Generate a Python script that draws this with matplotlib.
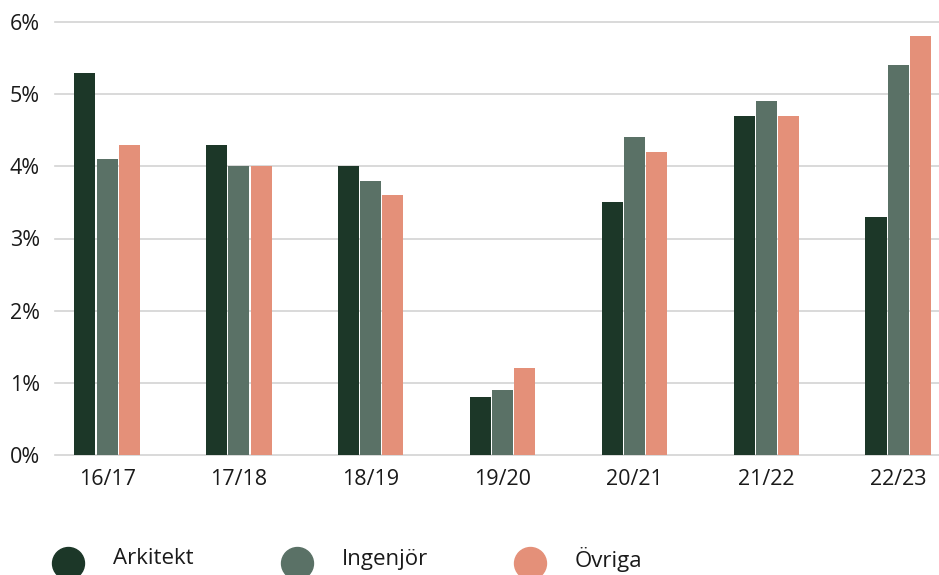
import numpy as np
import matplotlib
matplotlib.use("Agg")
import matplotlib.pyplot as plt
from matplotlib.lines import Line2D

plt.rcParams['font.family'] = ['Open Sans', 'DejaVu Sans']

# Andel per läsår och yrkesgrupp (%)
years = ['16/17', '17/18', '18/19', '19/20', '20/21', '21/22', '22/23']
arkitekt = [5.3, 4.3, 4.0, 0.8, 3.5, 4.7, 3.3]
ingenjor = [4.1, 4.0, 3.8, 0.9, 4.4, 4.9, 5.4]
ovriga = [4.3, 4.0, 3.6, 1.2, 4.2, 4.7, 5.8]

series = [('Arkitekt', arkitekt, '#1c3728'),
          ('Ingenjör', ingenjor, '#5a7166'),
          ('Övriga', ovriga, '#e49079')]

W, H = 939, 575
fig = plt.figure(figsize=(W / 100, H / 100), dpi=100)
ax = fig.add_axes([55 / W, (H - 455) / H, 1 - 55 / W, (455 - 22) / H])

x = np.arange(len(years))
width = 0.16
step = 0.168
for i, (name, vals, col) in enumerate(series):
    ax.bar(x + (i - 1) * step, vals, width=width, color=col, zorder=3)

ax.set_xlim(-0.395, 6.31)
ax.set_ylim(0, 6)
ax.set_yticks(range(7))
ax.set_yticklabels([f'{v}%' for v in range(7)])
ax.set_xticks(x)
ax.set_xticklabels(years)
ax.tick_params(axis='both', length=0, labelsize=15.5, colors='#1a1a1a')
ax.tick_params(axis='y', pad=11)
ax.tick_params(axis='x', pad=10)
ax.grid(axis='y', color='#d3d3d3', linewidth=1.2, zorder=0)
for ln in ax.get_ygridlines():
    ln.set_clip_on(False)
for s in ax.spines.values():
    s.set_visible(False)

# Legend drawn along the bottom edge
legend_x = [68, 297, 530]
for (name, vals, col), lx in zip(series, legend_x):
    fig.add_artist(Line2D([lx / W], [(H - 563) / H], marker='o', markersize=23,
                          color=col, linestyle='none', transform=fig.transFigure))
    fig.text((lx + 45) / W, (H - 559) / H, name, fontsize=16, color='#1a1a1a',
             va='center', ha='left')

fig.savefig('out.png', dpi=100)
